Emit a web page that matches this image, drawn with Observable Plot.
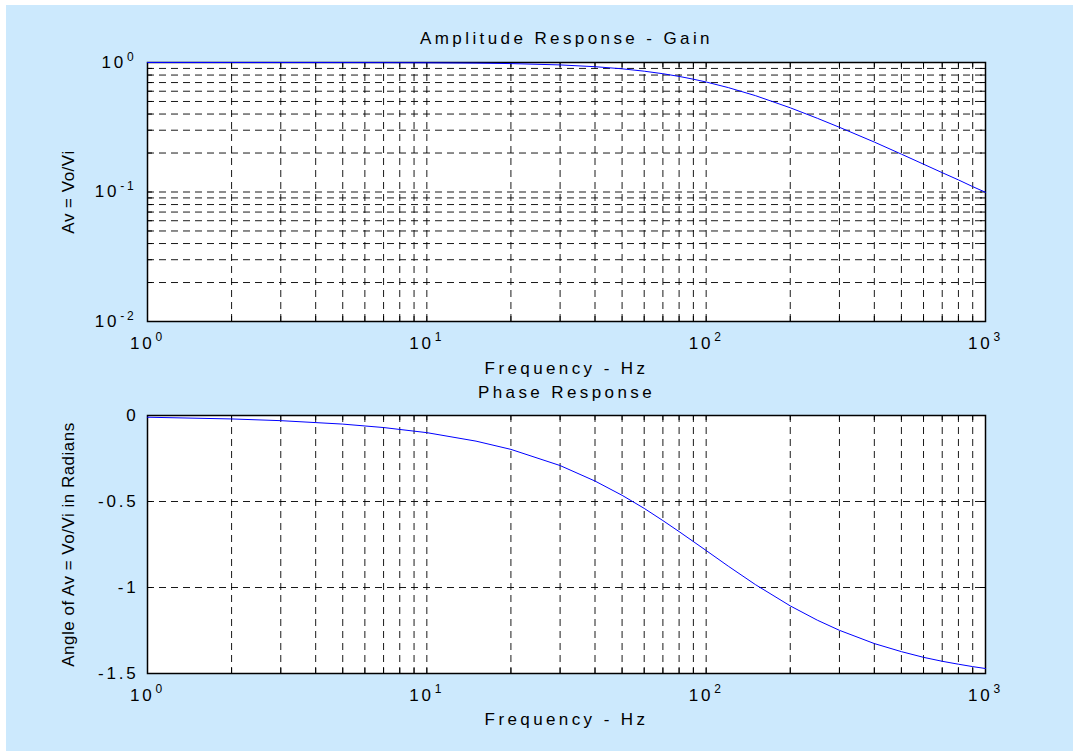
<!DOCTYPE html>
<html>
<head>
<meta charset="utf-8">
<script src="https://cdn.jsdelivr.net/npm/d3@7"></script>
<script src="https://cdn.jsdelivr.net/npm/@observablehq/plot@0.6"></script>
<style>
  html, body { margin: 0; padding: 0; background: #ffffff; }
  #panel { position: absolute; left: 6px; top: 5px; width: 1067px; height: 746px; background: #cce9fd; }
  #panel svg { display: block; }
</style>
</head>
<body>
<div id="panel"></div>
<script>
// ---- data ----
const freqHz = [1, 2, 3, 5, 7, 10, 15, 20, 30, 40, 50, 60, 70, 80, 90, 100, 120, 150, 200, 250, 300, 400, 500, 600, 700, 800, 900, 1000];
const gainAv = [1.0, 0.9998, 0.9996, 0.9988, 0.9976, 0.995, 0.989, 0.981, 0.958, 0.928, 0.894, 0.857, 0.819, 0.781, 0.743, 0.707, 0.640, 0.555, 0.447, 0.371, 0.316, 0.243, 0.196, 0.164, 0.141, 0.124, 0.110, 0.0995];
const phaseRad = [-0.010, -0.020, -0.030, -0.050, -0.070, -0.0997, -0.149, -0.197, -0.291, -0.381, -0.464, -0.540, -0.611, -0.675, -0.733, -0.785, -0.876, -0.983, -1.107, -1.190, -1.249, -1.326, -1.373, -1.406, -1.429, -1.446, -1.460, -1.471];

// ---- axis ticks / grid ----
const freqMajor = [1, 10, 100, 1000];
const freqGrid = [1, 2, 3, 4, 5, 6, 7, 8, 9, 10, 20, 30, 40, 50, 60, 70, 80, 90, 100, 200, 300, 400, 500, 600, 700, 800, 900, 1000];
const gainMajor = [0.01, 0.1, 1];
const gainGrid = [0.01, 0.02, 0.03, 0.04, 0.05, 0.06, 0.07, 0.08, 0.09, 0.1, 0.2, 0.3, 0.4, 0.5, 0.6, 0.7, 0.8, 0.9, 1];
const phaseTicks = [0, -0.5, -1, -1.5];
const phaseTickLabels = ["0", "-0.5", "-1", "-1.5"];

// ---- text ----
const titleTop = "Amplitude Response - Gain";
const titleBottom = "Phase Response";
const xLabel = "Frequency - Hz";
const yLabelTop = "Av = Vo/Vi";
const yLabelBottom = "Angle of Av = Vo/Vi in Radians";

const gainData = freqHz.map((f, i) => ({f, v: gainAv[i]}));
const phaseData = freqHz.map((f, i) => ({f, v: phaseRad[i]}));

const W = 1067, H = 373, ML = 141, MR = 88;
const PW = W - ML - MR;
const pow10 = d => "10^" + Math.round(Math.log10(d));
const dash = {stroke: "#000", strokeOpacity: 0.9, strokeWidth: 1, strokeDasharray: "7,5"};
const baseStyle = "font-family: 'Liberation Sans', Arial, Helvetica, sans-serif; font-size: 17px; letter-spacing: 2.8px; background: transparent; color: #000; overflow: visible;";

function innerTicks(xs, ys, ph, tl) {
  return [
    Plot.tickX(xs, {x: d => d, insetTop: ph - tl, stroke: "#000"}),
    Plot.tickX(xs, {x: d => d, insetBottom: ph - tl, stroke: "#000"}),
    Plot.tickY(ys, {y: d => d, insetLeft: PW - tl, stroke: "#000"}),
    Plot.tickY(ys, {y: d => d, insetRight: PW - tl, stroke: "#000"})
  ];
}

// ---- top: amplitude ----
const MT1 = 57, MB1 = 57, PH1 = H - MT1 - MB1;
const chartGain = Plot.plot({
  width: W, height: H, marginLeft: ML, marginRight: MR, marginTop: MT1, marginBottom: MB1,
  style: baseStyle,
  x: {type: "log", domain: [1, 1000]},
  y: {type: "log", domain: [0.01, 1]},
  marks: [
    Plot.frame({fill: "#fff"}),
    Plot.ruleX(freqGrid, {x: d => d, ...dash}),
    Plot.ruleY(gainGrid, {y: d => d, ...dash}),
    ...innerTicks(freqGrid, gainGrid, PH1, 5),
    Plot.frame({stroke: "#000", strokeWidth: 1.5}),
    Plot.axisX({ticks: freqMajor, tickFormat: pow10, tickSize: 0, tickPadding: 15, label: null, anchor: "bottom"}),
    Plot.axisY({ticks: gainMajor, tickFormat: pow10, tickSize: 0, tickPadding: 11, label: null, anchor: "left"}),
    Plot.line(gainData, {x: "f", y: "v", stroke: "#0000ff", strokeWidth: 1}),
    Plot.text([titleTop], {frameAnchor: "top", textAnchor: "middle", dy: -24, lineAnchor: "middle", fontSize: 17}),
    Plot.text([xLabel], {frameAnchor: "bottom", textAnchor: "middle", dy: 47, lineAnchor: "middle", fontSize: 17}),
    Plot.text([yLabelTop], {frameAnchor: "left", textAnchor: "middle", dx: -79, rotate: -90, lineAnchor: "middle", fontSize: 17})
  ]
});

// ---- bottom: phase ----
const MT2 = 37, MB2 = 78, PH2 = H - MT2 - MB2;
const chartPhase = Plot.plot({
  width: W, height: H, marginLeft: ML, marginRight: MR, marginTop: MT2, marginBottom: MB2,
  style: baseStyle,
  x: {type: "log", domain: [1, 1000]},
  y: {domain: [-1.5, 0]},
  marks: [
    Plot.frame({fill: "#fff"}),
    Plot.ruleX(freqGrid, {x: d => d, ...dash}),
    Plot.ruleY(phaseTicks, {y: d => d, ...dash}),
    ...innerTicks(freqGrid, phaseTicks, PH2, 5),
    Plot.frame({stroke: "#000", strokeWidth: 1.5}),
    Plot.axisX({ticks: freqMajor, tickFormat: pow10, tickSize: 0, tickPadding: 15, label: null, anchor: "bottom"}),
    Plot.axisY({ticks: phaseTicks, tickFormat: d => phaseTickLabels[phaseTicks.indexOf(d)], tickSize: 0, tickPadding: 9, label: null, anchor: "left"}),
    Plot.line(phaseData, {x: "f", y: "v", stroke: "#0000ff", strokeWidth: 1}),
    Plot.text([titleBottom], {frameAnchor: "top", textAnchor: "middle", dy: -23, lineAnchor: "middle", fontSize: 17}),
    Plot.text([xLabel], {frameAnchor: "bottom", textAnchor: "middle", dy: 46, lineAnchor: "middle", fontSize: 17}),
    Plot.text([yLabelBottom], {frameAnchor: "left", textAnchor: "middle", dx: -79, rotate: -90, lineAnchor: "middle", fontSize: 17})
  ]
});

const NS = "http://www.w3.org/2000/svg";
function fixText(svg) {
  svg.querySelectorAll("text").forEach(t => {
    const s = t.textContent;
    const m = /^10\^(-?\d+)$/.exec(s);
    if (m) {
      t.textContent = "10";
      const sp = document.createElementNS(NS, "tspan");
      sp.setAttribute("dy", "-0.6em");
      sp.setAttribute("dx", "1");
      sp.setAttribute("font-size", "12");
      sp.textContent = m[1];
      t.appendChild(sp);
    }
    if (s === titleTop || s === titleBottom || s === xLabel) {
      t.style.letterSpacing = "3.4px";
    }
    if (s === yLabelTop || s === yLabelBottom) {
      t.style.letterSpacing = "0.5px";
    }
  });
}
fixText(chartGain);
fixText(chartPhase);

const panel = document.getElementById("panel");
panel.appendChild(chartGain);
panel.appendChild(chartPhase);
</script>
</body>
</html>
